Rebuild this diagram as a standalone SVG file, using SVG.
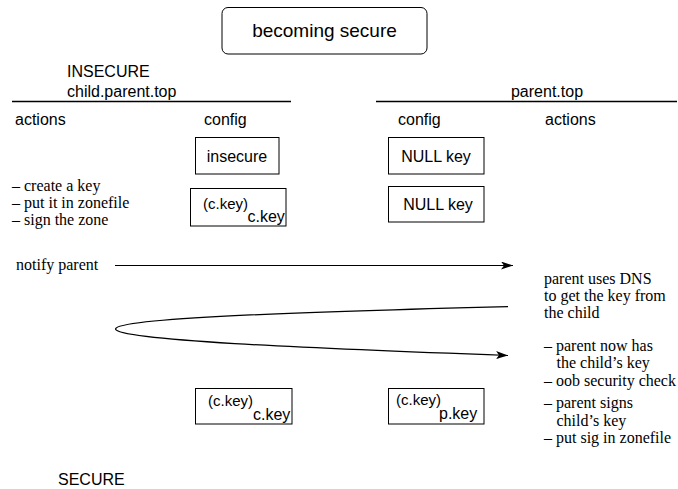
<svg xmlns="http://www.w3.org/2000/svg" width="678" height="489" viewBox="0 0 678 489">
  <style>
    .sans { font-family: "Liberation Sans", Arial, sans-serif; font-size: 16px; fill: #000; }
    .serif { font-family: "Liberation Serif", "Times New Roman", serif; font-size: 16px; fill: #000; }
    .box { fill: #fff; stroke: #000; stroke-width: 1; }
    .rule { stroke: #000; stroke-width: 1.3; fill: none; }
    .flow { stroke: #000; stroke-width: 1.2; fill: none; }
  </style>
  <defs>
    <marker id="arrow" markerUnits="userSpaceOnUse" markerWidth="14" markerHeight="10" refX="12" refY="4" orient="auto">
      <path d="M0,0 L12,4 L0,8 L3,4 z" fill="#000"/>
    </marker>
  </defs>
  <rect width="678" height="489" fill="#fff"/>

  <!-- title -->
  <g id="title">
    <rect class="box" x="222" y="7.5" width="205" height="46.5" rx="6"/>
    <text class="sans" x="324.5" y="37" text-anchor="middle" style="font-size:19px">becoming secure</text>
  </g>

  <!-- zone headers -->
  <g id="child-header">
    <text class="sans" x="67" y="77">INSECURE</text>
    <text class="sans" x="67" y="96.5">child.parent.top</text>
    <line class="rule" x1="12" y1="101.5" x2="291" y2="101.5"/>
    <text class="sans" x="15" y="125">actions</text>
    <text class="sans" x="204" y="125">config</text>
  </g>
  <g id="parent-header">
    <text class="sans" x="547" y="96.5" text-anchor="middle">parent.top</text>
    <line class="rule" x1="376" y1="101.5" x2="677" y2="101.5"/>
    <text class="sans" x="398" y="125">config</text>
    <text class="sans" x="545" y="125">actions</text>
  </g>
  <g id="child-footer">
    <text class="sans" x="58" y="485">SECURE</text>
  </g>

  <!-- child config states -->
  <g id="child-insecure">
    <rect class="box" x="195.5" y="137.5" width="83.5" height="36.5"/>
    <text class="sans" x="237" y="162" text-anchor="middle">insecure</text>
  </g>
  <g id="child-signed">
    <rect class="box" x="190.5" y="188.5" width="95.5" height="37.5"/>
    <text class="sans" x="203" y="209" style="font-size:15px">(c.key)</text>
    <text class="sans" x="247.5" y="221.5">c.key</text>
  </g>
  <g id="child-secure">
    <rect class="box" x="195.5" y="388.5" width="96.5" height="35.5"/>
    <text class="sans" x="208" y="406" style="font-size:15px">(c.key)</text>
    <text class="sans" x="253" y="419.5">c.key</text>
  </g>

  <!-- parent config states -->
  <g id="parent-null-1">
    <rect class="box" x="388.5" y="137.5" width="95.5" height="36.5"/>
    <text class="sans" x="436" y="162" text-anchor="middle">NULL key</text>
  </g>
  <g id="parent-null-2">
    <rect class="box" x="388.5" y="186.5" width="95.5" height="35.5"/>
    <text class="sans" x="438" y="210" text-anchor="middle">NULL key</text>
  </g>
  <g id="parent-signed">
    <rect class="box" x="388.5" y="388.5" width="95.5" height="35.5"/>
    <text class="sans" x="396" y="405" style="font-size:15px">(c.key)</text>
    <text class="sans" x="439" y="418.5">p.key</text>
  </g>

  <!-- child actions -->
  <g id="child-actions">
    <text class="serif" x="12" y="190.5">– create a key</text>
    <text class="serif" x="12" y="207.5">– put it in zonefile</text>
    <text class="serif" x="12" y="225">– sign the zone</text>
    <text class="serif" x="16" y="269.5">notify parent</text>
  </g>

  <!-- parent actions -->
  <g id="parent-actions">
    <text class="serif" x="544" y="283.5">parent uses DNS</text>
    <text class="serif" x="544" y="300.8">to get the key from</text>
    <text class="serif" x="544" y="318">the child</text>
    <text class="serif" x="544" y="351">– parent now has</text>
    <text class="serif" x="556.5" y="368.3">the child’s key</text>
    <text class="serif" x="544" y="385.5">– oob security check</text>
    <text class="serif" x="544" y="408.3">– parent signs</text>
    <text class="serif" x="556.5" y="425.7">child’s key</text>
    <text class="serif" x="544" y="443">– put sig in zonefile</text>
  </g>

  <!-- message flow -->
  <g id="connectors">
    <line class="flow" x1="115" y1="265.5" x2="513" y2="265.5" marker-end="url(#arrow)"/>
    <path class="flow" d="M508,306.7 C300,312 118,318 115.5,329 C118,340 300,348 508,355.5" marker-end="url(#arrow)"/>
  </g>
</svg>
